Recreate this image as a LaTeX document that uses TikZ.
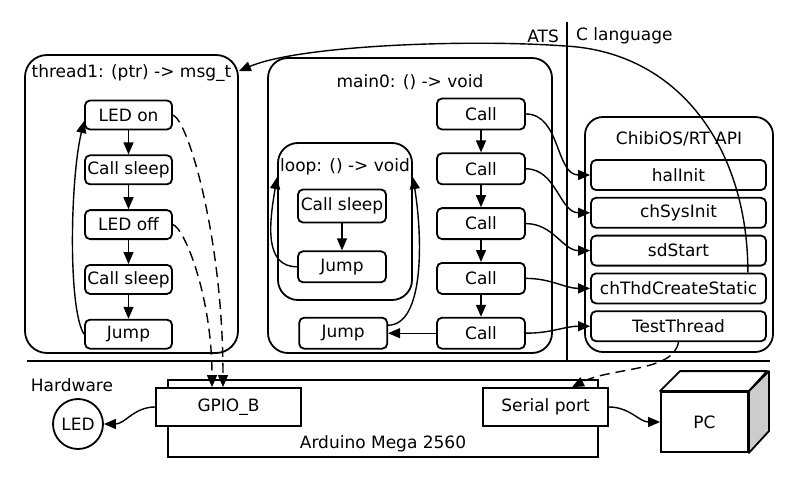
\documentclass[tikz,border=0pt]{standalone}
\usepackage{fontspec}
\setmainfont{DejaVu Sans}
\usetikzlibrary{arrows.meta, positioning, calc}
\tikzset{
    frame/.style={draw, rounded corners=20pt, line width=1.8pt},
    block/.style={draw, rounded corners=5pt, line width=1.8pt, fill=white, inner sep=2pt},
    tblock/.style={block, minimum width=87pt, minimum height=29pt},
    cblock/.style={block, minimum width=88pt, minimum height=31pt},
    ablock/.style={block, minimum width=175pt, minimum height=30pt},
    port/.style={draw, line width=1.8pt, fill=white, minimum height=38pt},
    title/.style={anchor=north, inner sep=2pt},
    flow/.style={->, line width=1.4pt},
    wire/.style={->, line width=1.4pt, dash pattern=on 10pt off 6pt},
}

\begin{document}
\begin{tikzpicture}[x=1pt, y=1pt, font=\fontsize{17}{20}\selectfont,
    >={Triangle[length=12pt, width=10pt]}]
    \tikzset{inner sep=0pt}
    \useasboundingbox (0,0) rectangle (800,480);

    \draw[line width=1.8pt] (27,119) -- (770,119);
    \draw[line width=1.8pt] (567,458) -- (567,119);
    \node[anchor=east] (ats) at (559,444) {ATS};
    \node[anchor=west] (clang) at (576,444) {C language};

    \node[frame, rounded corners=22pt, minimum width=213pt, minimum height=298pt,
      label={[title, yshift=-8pt]north:{thread1: (ptr) -> msg\_t}}] (thread1) at (131.5,276) {};
    \node[frame, minimum width=284pt, minimum height=295pt,
      label={[title, yshift=-15pt]north:{main0: () -> void}}] (main0) at (410,274.5) {};
    \node[frame, minimum width=134pt, minimum height=157pt,
      label={[title, yshift=-14pt]north:{loop: () -> void}}] (loop) at (345,258.5) {};
    \node[frame, rounded corners=18pt, minimum width=188pt, minimum height=235pt,
      label={[title, yshift=-13pt]north:{ChibiOS/RT API}}] (chibi) at (679,245.5) {};

    \node[tblock] (t0) at (128.5,365) {LED on};
    \node[tblock, below=24pt of t0] (t1) {Call sleep};
    \node[tblock, below=24pt of t1] (t2) {LED off};
    \node[tblock, below=24pt of t2] (t3) {Call sleep};
    \node[tblock, below=24pt of t3] (t4) {Jump};

    \node[cblock] (c0) at (481,366) {Call};
    \node[cblock, below=22pt of c0] (c1) {Call};
    \node[cblock, below=22pt of c1] (c2) {Call};
    \node[cblock, below=22pt of c2] (c3) {Call};
    \node[cblock, below=22pt of c3] (c4) {Call};
    \node[cblock, left=48pt of c4] (j0) {Jump};

    \node[cblock, minimum height=33pt] (l0) at (342,274) {Call sleep};
    \node[cblock, below=27pt of l0] (l1) {Jump};

    \node[ablock] (a0) at (678.5,305) {halInit};
    \node[ablock, below=6pt of a0] (a1) {chSysInit};
    \node[ablock, below=6pt of a1] (a2) {sdStart};
    \node[ablock, below=6pt of a2] (a3) {chThdCreateStatic};
    \node[ablock, below=6pt of a3] (a4) {TestThread};

    \foreach \a/\b in {t0/t1, t1/t2, t2/t3, t3/t4, c0/c1, c1/c2, c2/c3, c3/c4, l0/l1, c4/j0}
      \draw[flow] (\a) -- (\b);
    \foreach \i in {0,...,4}
      \draw[flow] (c\i.east) to[out=0, in=180] (a\i.west);

    \draw[flow] (t4.west) .. controls (68,170) and (70,300) .. ([yshift=-6pt]t0.west);
    \draw[flow] (l1.west) .. controls +(-33,0) and +(-8,-47) .. ([yshift=-35pt]loop.north west);
    \draw[flow] ([yshift=8pt]j0.east) .. controls +(36,0) and +(10,-62) .. ([yshift=-35pt]loop.north east);

    \coordinate (arc) at (565,434);
    \draw[flow] ([xshift=-19pt]a3.north east) .. controls +(0,123) and (680,428) .. (arc)
      .. controls (470,441) and (300,435) .. ([yshift=-17pt]thread1.north east);

    \node (hw) at (72,95) {Hardware};
    \node[draw, circle, line width=1.8pt, minimum size=50pt] (led) at (78,56) {LED};
    \node[draw, line width=1.8pt, minimum width=430pt, minimum height=77pt] (mega) at (383,61.5) {};
    \node[anchor=base] (megatext) at (383,32) {Arduino Mega 2560};
    \node[port, minimum width=145pt] (gpio) at (228.5,73) {GPIO\_B};
    \node[port, minimum width=125pt] (serial) at (545.5,73) {Serial port};

    \node[draw, line width=1.8pt, fill=white, minimum width=87pt, minimum height=60pt] (pc) at (704.5,58) {PC};
    \draw[line width=1.8pt, line join=round] (pc.north west) -- ++(20,20) -- ++(87,0) -- (pc.north east) -- cycle;
    \draw[line width=1.8pt, line join=round, fill=gray!40] (pc.north east) -- ++(20,20) -- ++(0,-60) -- (pc.south east) -- cycle;

    \draw[wire] (t0.east) .. controls +(15,-5) and +(0,150) .. ([xshift=-5.5pt]gpio.north);
    \draw[wire] (t2.east) .. controls +(12,-4) and +(0,90) .. ([xshift=-16.5pt]gpio.north);
    \draw[wire] (a4.south) .. controls +(-5,-30) and +(40,20) .. ([xshift=26.5pt]serial.north);
    \draw[flow] (gpio.west) to[out=180, in=0] (led.east);
    \draw[flow] (serial.east) to[out=0, in=180] (pc.west);
\end{tikzpicture}
\end{document}
